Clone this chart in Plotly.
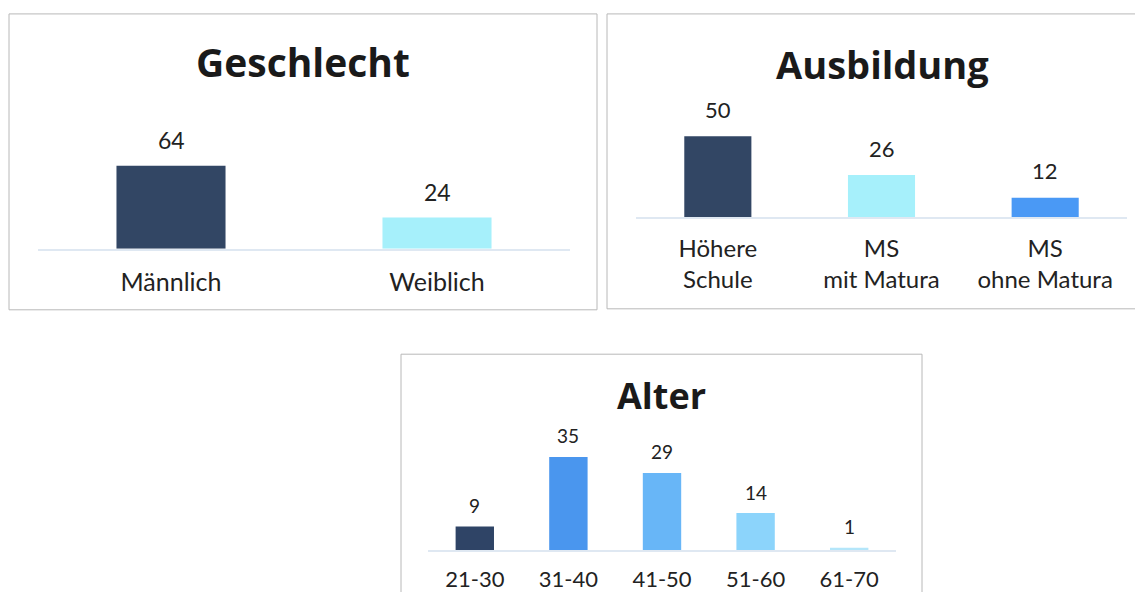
import plotly.graph_objects as go

# ---- data ----
geschlecht_cats = ["Männlich", "Weiblich"]
geschlecht_vals = [64, 24]
geschlecht_colors = ["#324664", "#a6f0fb"]

ausbildung_cats = ["Höhere<br>Schule", "MS<br>mit Matura", "MS<br>ohne Matura"]
ausbildung_vals = [50, 26, 12]
ausbildung_colors = ["#324664", "#a6f0fb", "#4a99f5"]

alter_cats = ["21-30", "31-40", "41-50", "51-60", "61-70"]
alter_vals = [9, 35, 29, 14, 1]
alter_colors = ["#2f4466", "#4a96ee", "#68b6f7", "#8cd4fb", "#b4e6fa"]

# page has an 8px body margin; figure sized so the page fits the 1143x600 window
OFF = 8
W, H = 1127, 584
FONT = "Lato, Calibri, Carlito, sans-serif"
TFONT = "Open Sans, Calibri, sans-serif"

def fx(sx):
    return (sx - OFF) / W

def fy(sy):
    return 1 - (sy - OFF) / H

def px_x(a, b):
    return [fx(a), fx(b)]

def px_y(top, bottom):
    return [fy(bottom), fy(top)]

fig = go.Figure()

panels = [
    dict(cats=geschlecht_cats, vals=geschlecht_vals, colors=geschlecht_colors,
         xd=px_x(38, 570), yd=px_y(131, 252), ymax=92.2, ax="", lab=25, val=23,
         ticklen=11, shift=26, title="Geschlecht", tx=303, ty=62, tsize=39,
         box=(9, 14, 597, 314)),
    dict(cats=ausbildung_cats, vals=ausbildung_vals, colors=ausbildung_colors,
         xd=px_x(636, 1127), yd=px_y(101, 220), ymax=72.6, ax="2", lab=24, val=22,
         ticklen=9, shift=27, title="Ausbildung", tx=882, ty=65, tsize=38,
         box=(607, 14, 1160, 313)),
    dict(cats=alter_cats, vals=alter_vals, colors=alter_colors,
         xd=px_x(428, 896), yd=px_y(432, 558), ymax=46.5, ax="3", lab=22, val=19,
         ticklen=8, shift=21, title="Alter", tx=661, ty=401, tsize=36,
         box=(401, 359, 922, 620)),
]

shapes = []
annotations = []
for p in panels:
    ax = p["ax"]
    fig.add_trace(go.Bar(
        x=p["cats"], y=p["vals"], marker=dict(color=p["colors"], line=dict(width=0)),
        xaxis="x" + ax, yaxis="y" + ax, showlegend=False, hoverinfo="x+y",
    ))
    fig.update_layout(**{
        "xaxis" + ax: dict(domain=p["xd"], anchor="y" + ax, showline=True,
                           linecolor="#dfe8f2", linewidth=1.5, showgrid=False,
                           zeroline=False, ticks="outside", ticklen=p["ticklen"],
                           tickcolor="rgba(0,0,0,0)",
                           tickfont=dict(family=FONT, size=p["lab"], color="#222222")),
        "yaxis" + ax: dict(domain=p["yd"], anchor="x" + ax, range=[0, p["ymax"]],
                           visible=False, showgrid=False, zeroline=False),
    })
    for c, v in zip(p["cats"], p["vals"]):
        annotations.append(dict(
            x=c, y=v, xref="x" + ax, yref="y" + ax, text=str(v), showarrow=False,
            yanchor="middle", yshift=p["shift"],
            font=dict(family=FONT, size=p["val"], color="#222222"),
        ))
    annotations.append(dict(
        x=fx(p["tx"]), y=fy(p["ty"]), xref="paper", yref="paper",
        text="<b>" + p["title"] + "</b>", showarrow=False,
        xanchor="center", yanchor="middle",
        font=dict(family=TFONT, size=p["tsize"], color="#1a1a1a"),
    ))
    x0, y0, x1, y1 = p["box"]
    shapes.append(dict(type="rect", xref="paper", yref="paper",
                       x0=fx(x0), x1=fx(x1), y0=fy(y1), y1=fy(y0),
                       line=dict(color="#b8b8b8", width=1), layer="below"))

fig.update_layout(
    width=W, height=H, margin=dict(l=0, r=0, t=0, b=0),
    paper_bgcolor="white", plot_bgcolor="rgba(0,0,0,0)",
    bargap=0.59, shapes=shapes, annotations=annotations,
    font=dict(family=FONT),
)

fig.write_html("out.html")
